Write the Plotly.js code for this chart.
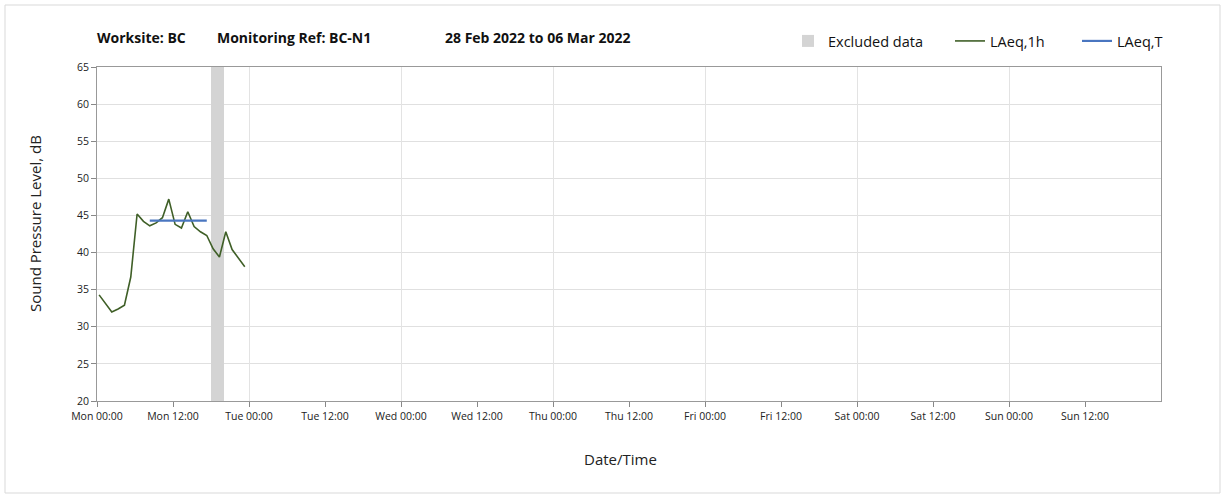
<!DOCTYPE html>
<html>
<head>
<meta charset="utf-8">
<script src="https://cdn.plot.ly/plotly-3.0.1.min.js"></script>
<style>html,body{margin:0;padding:0;background:#fff}#chart{width:1226px;height:495px}</style>
</head>
<body>
<div id="chart"></div>
<script>
// Hourly LAeq,1h readings, Mon 28 Feb 2022
var hourTimes = [
  '2022-02-28 00:20','2022-02-28 01:20','2022-02-28 02:20','2022-02-28 03:20',
  '2022-02-28 04:20','2022-02-28 05:20','2022-02-28 06:20','2022-02-28 07:20',
  '2022-02-28 08:20','2022-02-28 09:20','2022-02-28 10:20','2022-02-28 11:20',
  '2022-02-28 12:20','2022-02-28 13:20','2022-02-28 14:20','2022-02-28 15:20',
  '2022-02-28 16:20','2022-02-28 17:20','2022-02-28 18:20','2022-02-28 19:20',
  '2022-02-28 20:20','2022-02-28 21:20','2022-02-28 22:20','2022-02-28 23:20'
];
var laeq1h = [34.3, 33.1, 32.0, 32.4, 32.9, 36.7, 45.2, 44.2,
              43.6, 44.0, 44.7, 47.2, 43.8, 43.3, 45.5, 43.5,
              42.8, 42.3, 40.5, 39.4, 42.8, 40.4, 39.2, 38.1];
// LAeq,T period
var laeqTTimes = ['2022-02-28 08:20', '2022-02-28 17:20'];
var laeqTValues = [44.3, 44.3];
// Excluded data period
var excludedStart = '2022-02-28 18:00';
var excludedEnd = '2022-02-28 20:00';
var yMin = 20, yMax = 65;
var xStart = '2022-02-28 00:00', xEnd = '2022-03-07 00:00';
// x tick positions (12-hourly, labelled "Mon 00:00" ... "Sun 12:00")
var xTicks = ['2022-02-28 00:00','2022-02-28 12:00','2022-03-01 00:00','2022-03-01 12:00',
              '2022-03-02 00:00','2022-03-02 12:00','2022-03-03 00:00','2022-03-03 12:00',
              '2022-03-04 00:00','2022-03-04 12:00','2022-03-05 00:00','2022-03-05 12:00',
              '2022-03-06 00:00','2022-03-06 12:00'];
var titleParts = ['Worksite: BC', 'Monitoring Ref: BC-N1', '28 Feb 2022 to 06 Mar 2022'];

var t0 = new Date(excludedStart.replace(' ', 'T') + 'Z').getTime();
var t1 = new Date(excludedEnd.replace(' ', 'T') + 'Z').getTime();
var mid = new Date((t0 + t1) / 2).toISOString().slice(0, 16).replace('T', ' ');

var font = "'Open Sans', 'DejaVu Sans', sans-serif";
var traces = [
  {type: 'scatter', x: [xStart], y: [yMin], xaxis: 'x2', mode: 'none',
   showlegend: false, hoverinfo: 'skip'},
  {type: 'bar', name: 'Excluded data', x: [mid], y: [yMax - yMin], base: [yMin],
   width: [t1 - t0], marker: {color: '#d4d4d4', line: {width: 0}}, hoverinfo: 'skip',
   legend: 'legend'},
  {type: 'scatter', mode: 'lines', name: 'LAeq,1h', x: hourTimes, y: laeq1h,
   line: {color: '#3f5f27', width: 1.6}, legend: 'legend2'},
  {type: 'scatter', mode: 'lines', name: 'LAeq,T', x: laeqTTimes, y: laeqTValues,
   line: {color: '#4a76c0', width: 2.2}, legend: 'legend3'}
];

var plotL = 97, plotR = 1161, plotT = 67, plotB = 401, W = 1226, H = 495;
var pw = plotR - plotL, ph = plotB - plotT;
function px(x) { return (x - plotL) / pw; }
function py(y) { return (plotB - y) / ph; }
function leg(x) {
  return {orientation: 'h', xref: 'container', yref: 'container',
          x: x / W, y: 1 - 41 / H, xanchor: 'left', yanchor: 'middle',
          font: {family: font, size: 14.5, color: '#111'}, itemwidth: 30,
          bgcolor: 'rgba(0,0,0,0)'};
}

var layout = {
  width: W, height: H,
  margin: {l: plotL, r: W - plotR, t: plotT, b: H - plotB, pad: 0},
  paper_bgcolor: '#ffffff', plot_bgcolor: '#ffffff',
  font: {family: font, size: 11, color: '#222'},
  showlegend: true,
  legend: leg(788), legend2: leg(950), legend3: leg(1077),
  bargap: 0,
  xaxis: {type: 'date', range: [xStart, xEnd], tickmode: 'array', tickvals: xTicks,
          tickformat: '%a %H:%M', showgrid: false,
          ticks: 'outside', ticklen: 5, tickcolor: '#888', showline: true,
          linecolor: '#999', linewidth: 1, mirror: true, zeroline: false,
          tickfont: {family: font, size: 10.5, color: '#222'}, fixedrange: true},
  xaxis2: {type: 'date', range: [xStart, xEnd], overlaying: 'x', tickmode: 'linear',
           tick0: xStart, dtick: 24 * 3600000, showgrid: true, gridcolor: '#e3e3e3',
           showticklabels: false, ticks: '', showline: false, zeroline: false, layer: 'below traces'},
  yaxis: {range: [yMin, yMax], dtick: 5, showgrid: true, gridcolor: '#e0e0e0',
          ticks: 'outside', ticklen: 5, tickcolor: '#888', showline: true,
          linecolor: '#999', linewidth: 1, mirror: true, zeroline: false,
          tickfont: {family: font, size: 10.5, color: '#222'}, fixedrange: true},
  annotations: [
    {text: titleParts[0], xref: 'paper', yref: 'paper', x: px(95), y: py(37), xanchor: 'left', yanchor: 'middle',
     showarrow: false, font: {family: font, size: 14, color: '#111', weight: 'bold'}},
    {text: titleParts[1], xref: 'paper', yref: 'paper', x: px(215), y: py(37), xanchor: 'left', yanchor: 'middle',
     showarrow: false, font: {family: font, size: 14, color: '#111', weight: 'bold'}},
    {text: titleParts[2], xref: 'paper', yref: 'paper', x: px(443), y: py(37), xanchor: 'left', yanchor: 'middle',
     showarrow: false, font: {family: font, size: 14, color: '#111', weight: 'bold'}},
    {text: 'Sound Pressure Level, dB', xref: 'paper', yref: 'paper', x: px(35), y: py(224),
     xanchor: 'center', yanchor: 'middle', textangle: -90, showarrow: false,
     font: {family: font, size: 15, color: '#222'}},
    {text: 'Date/Time', xref: 'paper', yref: 'paper', x: px(620), y: py(459),
     xanchor: 'center', yanchor: 'middle', showarrow: false,
     font: {family: font, size: 15, color: '#222'}}
  ],
  shapes: [
    {type: 'rect', xref: 'paper', yref: 'paper', x0: px(5), x1: px(1220), y0: py(493), y1: py(5),
     line: {color: '#d9d9d9', width: 1}, fillcolor: 'rgba(0,0,0,0)', layer: 'below'}
  ]
};
Plotly.newPlot('chart', traces, layout, {displayModeBar: false, staticPlot: true});
</script>
</body>
</html>
